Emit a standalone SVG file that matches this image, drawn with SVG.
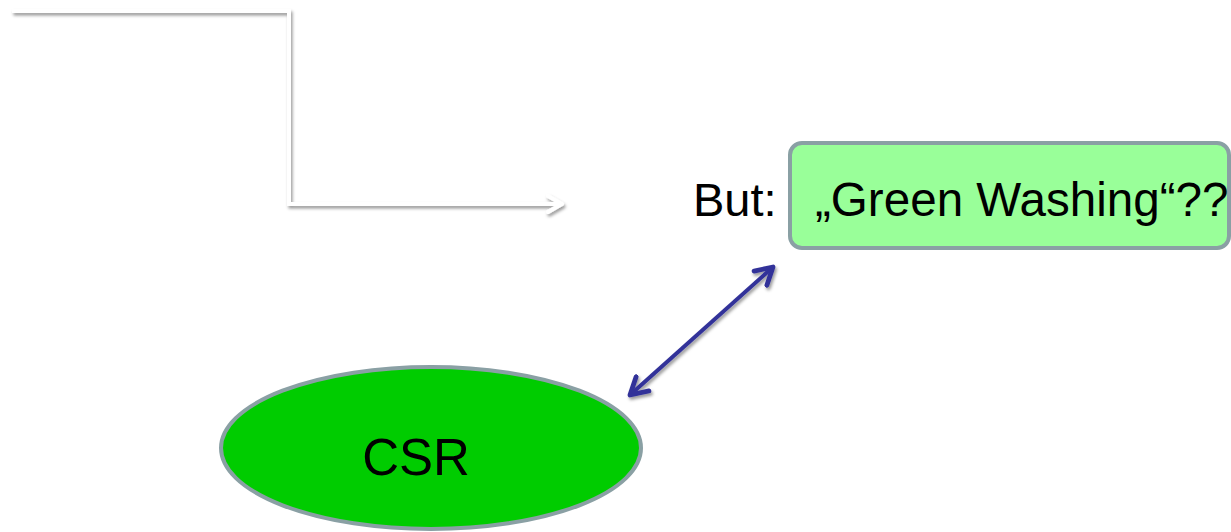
<svg xmlns="http://www.w3.org/2000/svg" width="1231" height="532" viewBox="0 0 1231 532">
  <style>
    .lbl { font-family: "Liberation Sans", Arial, sans-serif; fill: #000; }
  </style>
  <defs>
    <filter id="shadow" x="-10%" y="-10%" width="130%" height="140%">
      <feDropShadow dx="1.5" dy="2.5" stdDeviation="1.5" flood-color="#000" flood-opacity="0.4"/>
    </filter>
    <marker id="blueHead" viewBox="0 0 10 10" refX="8" refY="5" markerWidth="6" markerHeight="6" orient="auto-start-reverse" markerUnits="strokeWidth">
      <path d="M1,1 L8,5 L1,9" fill="none" stroke="#333399" stroke-width="2" stroke-linecap="round" stroke-linejoin="round"/>
    </marker>
    <marker id="whiteHead" viewBox="0 0 10 10" refX="8" refY="5" markerWidth="5" markerHeight="5" orient="auto" markerUnits="strokeWidth">
      <path d="M1,1 L8,5 L1,9" fill="none" stroke="#ffffff" stroke-width="2" stroke-linecap="round" stroke-linejoin="round"/>
    </marker>
  </defs>
  <rect width="1231" height="532" fill="#ffffff"/>

  <g id="connectors">
    <polyline points="12,11 289,11 289,204 562,204" fill="none" stroke="#ffffff" stroke-width="4" stroke-linejoin="miter" marker-end="url(#whiteHead)" filter="url(#shadow)"/>
    <line x1="630" y1="395" x2="773" y2="267" stroke="#333399" stroke-width="4" marker-start="url(#blueHead)" marker-end="url(#blueHead)" filter="url(#shadow)"/>
  </g>

  <g id="green-washing">
    <rect x="790" y="143" width="439" height="105" rx="12" fill="#99ff99" stroke="#8aa0a4" stroke-width="4"/>
    <text class="lbl" x="693" y="216" font-size="47">But:</text>
    <text class="lbl" x="815" y="216" font-size="47.6">„Green Washing“??</text>
  </g>

  <g id="csr">
    <ellipse cx="431" cy="448" rx="210" ry="81" fill="#00cc00" stroke="#8aa0a4" stroke-width="4"/>
    <text class="lbl" x="416" y="475" font-size="51" text-anchor="middle">CSR</text>
  </g>
</svg>
